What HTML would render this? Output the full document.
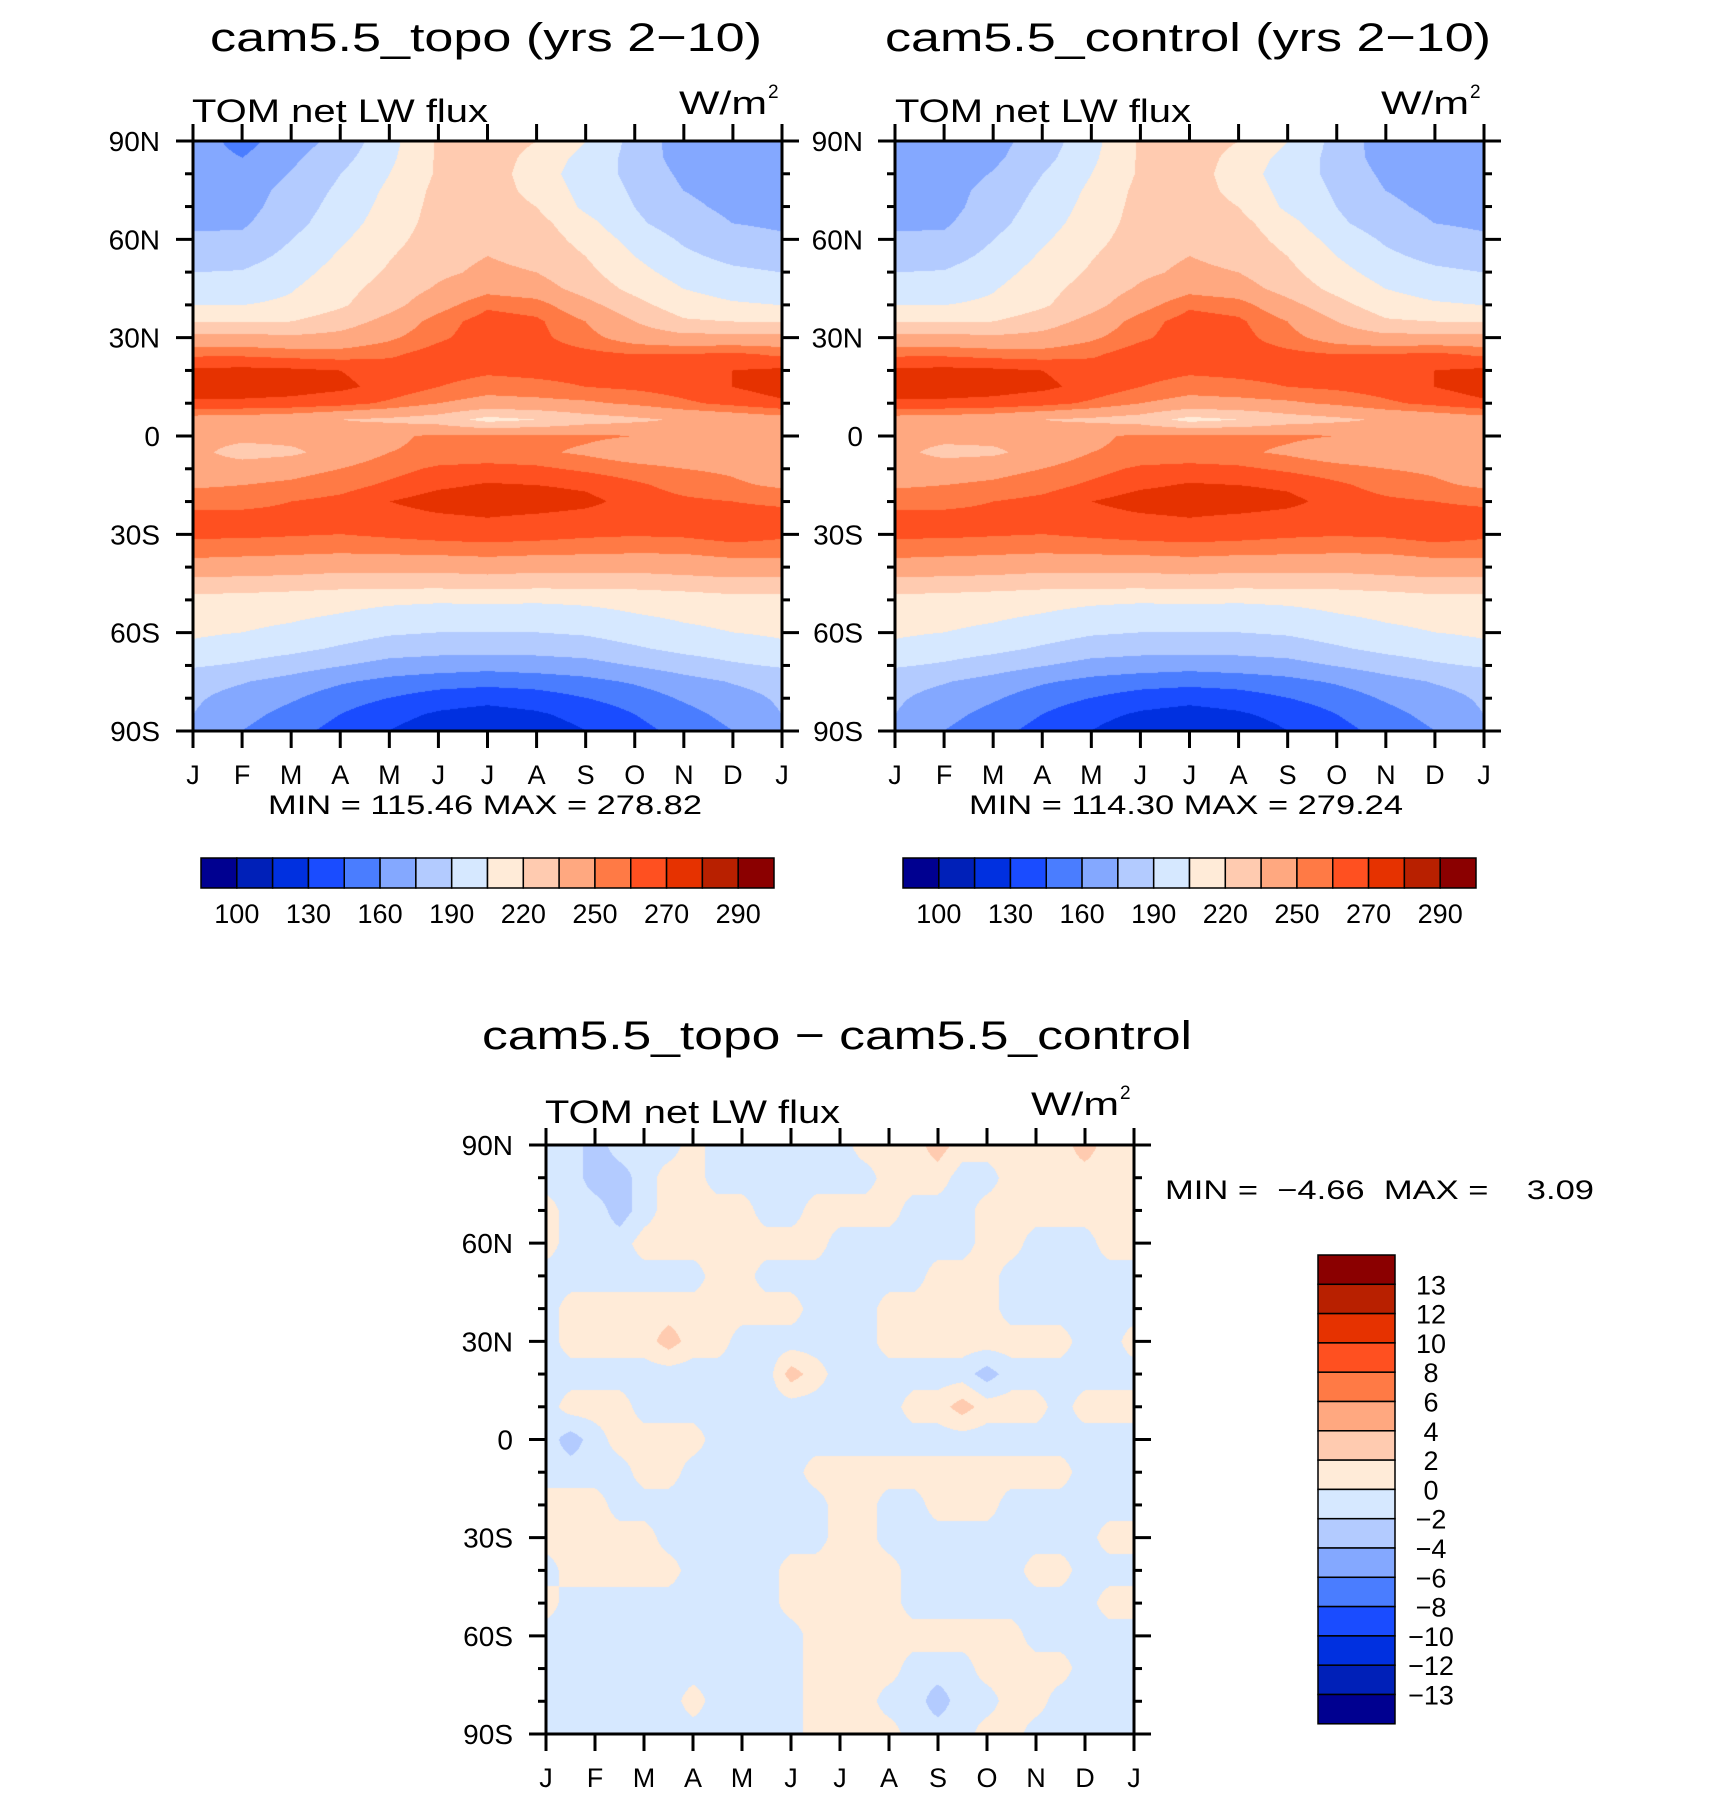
<!DOCTYPE html>
<html><head><meta charset="utf-8">
<style>
html,body{margin:0;padding:0;background:#fff;}
#wrap{position:relative;width:1710px;height:1796px;overflow:hidden;background:#fff;}
canvas{position:absolute;}
svg{position:absolute;left:0;top:0;}
text{font-family:"Liberation Sans",sans-serif;fill:#000;}
</style></head>
<body>
<div id="wrap">
<canvas id="c1" style="left:193px;top:141px" width="589" height="590"></canvas>
<canvas id="c2" style="left:895px;top:141px" width="589" height="590"></canvas>
<canvas id="c3" style="left:546px;top:1145px" width="588" height="589"></canvas>
<svg id="svg" width="1710" height="1796">
<text x="210" y="51" font-size="40" textLength="552" lengthAdjust="spacingAndGlyphs">cam5.5_topo (yrs 2−10)</text>
<text x="885" y="51" font-size="40" textLength="606" lengthAdjust="spacingAndGlyphs">cam5.5_control (yrs 2−10)</text>
<text x="482" y="1049" font-size="40" textLength="710" lengthAdjust="spacingAndGlyphs">cam5.5_topo − cam5.5_control</text>
<text x="192" y="122" font-size="32" textLength="296" lengthAdjust="spacingAndGlyphs">TOM net LW flux</text>
<text x="679" y="114" font-size="32" textLength="88" lengthAdjust="spacingAndGlyphs">W/m</text>
<text x="768" y="98" font-size="19">2</text>
<text x="895" y="122" font-size="32" textLength="296" lengthAdjust="spacingAndGlyphs">TOM net LW flux</text>
<text x="1381" y="114" font-size="32" textLength="88" lengthAdjust="spacingAndGlyphs">W/m</text>
<text x="1470" y="98" font-size="19">2</text>
<text x="545" y="1123" font-size="32" textLength="295" lengthAdjust="spacingAndGlyphs">TOM net LW flux</text>
<text x="1031" y="1115" font-size="32" textLength="88" lengthAdjust="spacingAndGlyphs">W/m</text>
<text x="1120" y="1099" font-size="19">2</text>
<text x="268" y="814" font-size="27" textLength="434" lengthAdjust="spacingAndGlyphs">MIN = 115.46 MAX = 278.82</text>
<text x="969" y="814" font-size="27" textLength="434" lengthAdjust="spacingAndGlyphs">MIN = 114.30 MAX = 279.24</text>
<text x="1165" y="1199" font-size="27" textLength="429" lengthAdjust="spacingAndGlyphs" xml:space="preserve">MIN =  −4.66  MAX =    3.09</text>
</svg>
</div>
<script>
// ---------- data ----------
const monthLabels=['J','F','M','A','M','J','J','A','S','O','N','D','J'];
const latTickLabels=['90N','60N','30N','0','30S','60S','90S'];
const latTickValues=[90,60,30,0,-30,-60,-90];
const absLevels=[100,115,130,145,160,175,190,205,220,235,250,260,270,280,290];
const absLabels=['100','130','160','190','220','250','270','290'];
const absLabelIdx=[0,2,4,6,8,10,12,14];
const diffLevels=[-13,-12,-10,-8,-6,-4,-2,0,2,4,6,8,10,12,13];
const diffLabels=['13','12','10','8','6','4','2','0','−2','−4','−6','−8','−10','−12','−13'];
const palette=['#000090','#0020b8','#0030e0','#1a4cff','#4a7dff','#84a8ff','#b3cbff','#d6e8ff','#ffebd8','#ffcbb0','#ffa880','#ff7a45','#ff5020','#e63200','#b82000','#8b0000'];
// latitude rows 90N..90S every 5 deg, columns Jan..Dec,Jan
const topoVals=[
[167,155,168,180,200,222,228,220,205,185,167,165,167],
[167,160,172,185,202,222,228,215,200,185,168,166,167],
[168,165,176,190,205,222,228,212,198,186,172,168,168],
[170,168,180,193,208,224,228,215,200,188,175,170,170],
[171,170,182,196,210,225,229,220,202,190,178,172,171],
[173,173,185,199,212,226,230,225,210,193,182,175,173],
[177,178,190,203,215,228,232,228,215,200,188,180,177],
[183,184,194,207,219,230,235,231,220,205,193,186,183],
[190,191,199,211,222,232,238,235,224,210,199,193,190],
[196,197,204,215,226,237,246,242,229,216,205,199,196],
[205,205,208,218,230,245,258,255,240,225,212,207,205],
[219,219,220,228,240,255,265,262,250,235,222,220,219],
[240,240,238,240,248,258,266,263,254,244,240,240,240],
[258,258,256,255,258,265,267,266,263,260,260,262,258],
[272,273,272,270,266,265,262,263,264,265,266,270,272],
[275,275,274,272,267,260,255,257,260,262,265,270,275],
[268,268,267,264,258,250,245,246,248,252,258,263,268],
[244,243,240,235,232,228,215,220,228,232,237,240,244],
[240,240,240,242,248,252,253,253,252,250,242,240,240],
[240,228,232,242,250,252,252,252,248,242,240,240,240],
[242,244,246,250,256,262,264,262,258,254,250,248,242],
[248,250,252,256,262,268,271,270,268,262,256,252,248],
[258,258,260,263,270,275,276,276,273,266,262,260,258],
[262,262,262,263,265,268,270,268,266,264,263,264,264],
[262,262,261,260,262,264,265,264,262,261,262,265,262],
[255,254,253,252,253,254,255,254,253,252,252,255,255],
[244,243,242,240,240,240,242,240,240,240,242,244,244],
[230,229,228,226,226,226,227,226,226,226,228,230,230],
[215,214,212,210,208,207,208,207,208,210,212,215,215],
[210,209,207,204,200,198,197,198,200,204,207,209,210],
[207,205,202,197,192,190,190,190,192,197,202,205,207],
[202,198,194,188,182,180,180,180,182,188,194,198,202],
[192,188,182,176,170,168,166,168,170,176,182,188,192],
[180,176,170,162,156,152,150,152,156,162,170,176,180],
[177,170,162,152,145,138,135,138,145,152,162,170,177],
[175,165,155,145,135,128,124,128,135,145,155,165,175],
[170,160,150,140,130,122,118,122,130,140,150,160,170]];
const controlVals=[
[168,165,170,182,200,222,228,220,205,185,167,165,168],
[168,166,172,185,202,222,228,215,200,185,168,166,168],
[168,167,176,190,205,222,228,212,198,186,172,168,168],
[170,169,180,193,208,224,228,215,200,188,175,170,170],
[171,170,182,196,210,225,229,220,202,190,178,172,171],
[173,173,185,199,212,226,230,225,210,193,182,175,173],
[177,178,190,203,215,228,232,228,215,200,188,180,177],
[183,184,194,207,219,230,235,231,220,205,193,186,183],
[190,191,199,211,222,232,238,235,224,210,199,193,190],
[196,197,204,215,226,237,246,242,229,216,205,199,196],
[205,205,208,218,230,245,258,255,240,225,212,207,205],
[219,219,220,228,240,255,265,262,250,235,222,220,219],
[240,240,238,240,248,258,266,264,254,244,240,240,240],
[258,258,256,255,258,266,268,266,263,260,260,262,258],
[272,273,272,270,266,265,262,263,264,265,266,270,272],
[275,275,274,272,267,260,255,257,260,262,265,270,275],
[268,268,267,264,258,250,245,246,248,252,258,263,268],
[244,243,240,235,232,228,215,220,228,232,237,240,244],
[240,240,240,242,248,252,253,253,252,250,242,240,240],
[240,230,232,242,250,252,252,252,248,242,240,240,240],
[242,244,246,250,256,262,264,262,258,254,250,248,242],
[248,250,252,256,262,268,271,270,268,262,256,252,248],
[258,258,260,263,270,275,276,276,273,266,262,260,258],
[262,262,262,263,265,268,270,268,266,264,263,264,264],
[262,262,261,260,262,264,265,264,262,261,262,265,262],
[255,254,253,252,253,254,255,254,253,252,252,255,255],
[244,243,242,240,240,240,242,240,240,240,242,244,244],
[230,229,228,226,226,226,227,226,226,226,228,230,230],
[215,214,212,210,208,207,208,207,208,210,212,215,215],
[210,209,207,204,200,198,197,198,200,204,207,209,210],
[207,205,202,197,192,190,190,190,192,197,202,205,207],
[202,198,194,188,182,180,180,180,182,188,194,198,202],
[192,188,182,176,170,168,166,168,170,176,182,188,192],
[180,176,170,162,156,152,150,152,156,162,170,176,180],
[177,170,162,152,145,138,135,138,145,152,162,170,177],
[175,165,155,145,135,128,124,128,135,145,155,165,175],
[170,160,150,140,130,121,117,121,130,140,150,160,170]];
// latitude rows 90N..90S every 10 deg, 25 half-month columns
const diffVals=[
[-1,-1,-3,-1,-1,-1,1,-1,-1,-1,-1,-1,-1,1,1,1,3,1,1,1,1,1,3,1,1],
[-1,-1,-3,-3,-1,1,1,-1,-1,-1,-1,-1,-1,-1,1,1,1,-1,-1,1,1,1,1,1,1],
[1,-1,-1,-3,-1,1,1,1,1,-1,-1,1,1,1,1,-1,-1,-1,1,1,1,1,1,1,1],
[1,-1,-1,-1,1,1,1,1,1,1,1,1,-1,-1,-1,-1,-1,-1,1,1,-1,-1,-1,1,1],
[-1,-1,-1,-1,-1,-1,-1,1,1,-1,-1,-1,-1,-1,-1,-1,1,1,1,-1,-1,-1,-1,-1,-1],
[-1,1,1,1,1,1,1,1,1,1,1,-1,-1,-1,1,1,1,1,1,-1,-1,-1,-1,-1,-1],
[-1,1,1,1,1,3,1,1,-1,-1,-1,-1,-1,-1,1,1,1,1,1,1,1,1,-1,-1,1],
[-1,-1,-1,-1,-1,-1,-1,-1,-1,-1,3,1,-1,-1,-1,-1,-1,-1,-3,-1,-1,-1,-1,-1,-1],
[-1,1,1,1,-1,-1,-1,-1,-1,-1,-1,-1,-1,-1,-1,1,1,3,1,1,1,-1,1,1,1],
[-1,-3,-1,1,1,1,1,-1,-1,-1,-1,-1,-1,-1,-1,-1,-1,-1,-1,-1,-1,-1,-1,-1,-1],
[-1,-1,-1,-1,1,1,-1,-1,-1,-1,-1,1,1,1,1,1,1,1,1,1,1,1,-1,-1,-1],
[1,1,1,-1,-1,-1,-1,-1,-1,-1,-1,-1,1,1,-1,-1,1,1,1,-1,-1,-1,-1,-1,-1],
[1,1,1,1,1,-1,-1,-1,-1,-1,-1,-1,1,1,-1,-1,-1,-1,-1,-1,-1,-1,-1,1,1],
[-1,1,1,1,1,1,-1,-1,-1,-1,1,1,1,1,1,-1,-1,-1,-1,-1,1,1,-1,-1,-1],
[1,-1,-1,-1,-1,-1,-1,-1,-1,-1,1,1,1,1,1,-1,-1,-1,-1,-1,-1,-1,-1,1,1],
[-1,-1,-1,-1,-1,-1,-1,-1,-1,-1,-1,1,1,1,1,1,1,1,1,1,-1,-1,-1,-1,-1],
[-1,-1,-1,-1,-1,-1,-1,-1,-1,-1,-1,1,1,1,1,-1,-1,-1,1,1,1,1,-1,-1,-1],
[-1,-1,-1,-1,-1,-1,1,-1,-1,-1,-1,1,1,1,-1,-1,-3,-1,-1,1,1,-1,-1,-1,-1],
[-1,-1,-1,-1,-1,-1,-1,-1,-1,-1,-1,1,1,1,1,-1,-1,-1,1,1,-1,-1,-1,-1,-1]];

// ---------- plots ----------
const plots=[
 {id:'c1',name:'topo',x:193,y:141,w:589,h:590,vals:topoVals,levels:absLevels,ylx:160},
 {id:'c2',name:'control',x:895,y:141,w:589,h:590,vals:controlVals,levels:absLevels,ylx:863},
 {id:'c3',name:'difference',x:546,y:1145,w:588,h:589,vals:diffVals,levels:diffLevels,ylx:513}
];
function xMonth(p,i){return p.x+i/12*p.w;}
function yLat(p,lat){return p.y+(90-lat)/180*p.h;}
function hexRgb(h){return [parseInt(h.substr(1,2),16),parseInt(h.substr(3,2),16),parseInt(h.substr(5,2),16)];}
const rgbPal=palette.map(hexRgb);
function levelIndex(v,levels){let k=0;while(k<levels.length&&v>=levels[k])k++;return k;}
function drawField(p){
  const cv=document.getElementById(p.id),ctx=cv.getContext('2d');
  const img=ctx.createImageData(p.w,p.h);const nr=p.vals.length,nc=p.vals[0].length;
  for(let py=0;py<p.h;py++){
    const fr=py/(p.h-1)*(nr-1);const r0=Math.min(nr-2,Math.floor(fr));const tr=fr-r0;
    for(let px=0;px<p.w;px++){
      const fc=px/(p.w-1)*(nc-1);const c0=Math.min(nc-2,Math.floor(fc));const tc=fc-c0;
      const v=(1-tr)*((1-tc)*p.vals[r0][c0]+tc*p.vals[r0][c0+1])+tr*((1-tc)*p.vals[r0+1][c0]+tc*p.vals[r0+1][c0+1]);
      const col=rgbPal[levelIndex(v,p.levels)];const o=(py*p.w+px)*4;
      img.data[o]=col[0];img.data[o+1]=col[1];img.data[o+2]=col[2];img.data[o+3]=255;
    }
  }
  ctx.putImageData(img,0,0);
}
const NS='http://www.w3.org/2000/svg';const svg=document.getElementById('svg');
function line(x1,y1,x2,y2,w){const l=document.createElementNS(NS,'line');l.setAttribute('x1',x1);l.setAttribute('y1',y1);l.setAttribute('x2',x2);l.setAttribute('y2',y2);l.setAttribute('stroke','#000');l.setAttribute('stroke-width',w);svg.appendChild(l);return l;}
function txt(x,y,s,size,anchor){const t=document.createElementNS(NS,'text');t.setAttribute('x',x);t.setAttribute('y',y);t.setAttribute('font-size',size);t.setAttribute('text-anchor',anchor);t.textContent=s;svg.appendChild(t);return t;}
plots.forEach(p=>{
  drawField(p);
  const fr=document.createElementNS(NS,'rect');
  fr.setAttribute('x',p.x);fr.setAttribute('y',p.y);fr.setAttribute('width',p.w);fr.setAttribute('height',p.h);
  fr.setAttribute('fill','none');fr.setAttribute('stroke','#000');fr.setAttribute('stroke-width',3);
  
  
  svg.appendChild(fr);
  for(let i=0;i<=12;i++){
    const x=xMonth(p,i);
    const a=line(x,p.y+p.h,x,p.y+p.h+17,3);
    
    
    const b=line(x,p.y,x,p.y-17,3);
    
    
    const t=txt(x,p.y+p.h+53,monthLabels[i],27,'middle');
    
    
  }
  for(let lat=90;lat>=-90;lat-=10){
    const y=yLat(p,lat);const major=(lat%30===0);const L=major?17:8;
    const a=line(p.x,y,p.x-L,y,3);
    
    
    const b=line(p.x+p.w,y,p.x+p.w+L,y,3);
    
    
  }
  latTickValues.forEach((lat,i)=>{
    const t=txt(p.ylx,yLat(p,lat)+10,latTickLabels[i],28,'end');
    
    
  });
});
// horizontal colorbars
[{x:201,name:'topo'},{x:903,name:'control'}].forEach(cb=>{
  const y=858,h=30,w=573,bw=w/16;
  for(let i=0;i<16;i++){
    const r=document.createElementNS(NS,'rect');
    r.setAttribute('x',cb.x+i*bw);r.setAttribute('y',y);r.setAttribute('width',bw);r.setAttribute('height',h);
    r.setAttribute('fill',palette[i]);r.setAttribute('stroke','#000');r.setAttribute('stroke-width',1.5);
    
    
    svg.appendChild(r);
  }
  absLabels.forEach((s,j)=>{
    const t=txt(cb.x+(absLabelIdx[j]+1)*bw,923,s,27,'middle');
    
    
  });
});
// vertical colorbar
(function(){
  const x=1318,y=1255,w=77,bh=29.3;
  for(let i=0;i<16;i++){
    const r=document.createElementNS(NS,'rect');
    r.setAttribute('x',x);r.setAttribute('y',y+i*bh);r.setAttribute('width',w);r.setAttribute('height',bh);
    r.setAttribute('fill',palette[15-i]);r.setAttribute('stroke','#000');r.setAttribute('stroke-width',1.5);
    
    
    svg.appendChild(r);
  }
  diffLabels.forEach((s,j)=>{
    const t=txt(1431,y+(j+1)*bh+10,s,27,'middle');
    
    
  });
})();
</script>
</body></html>
